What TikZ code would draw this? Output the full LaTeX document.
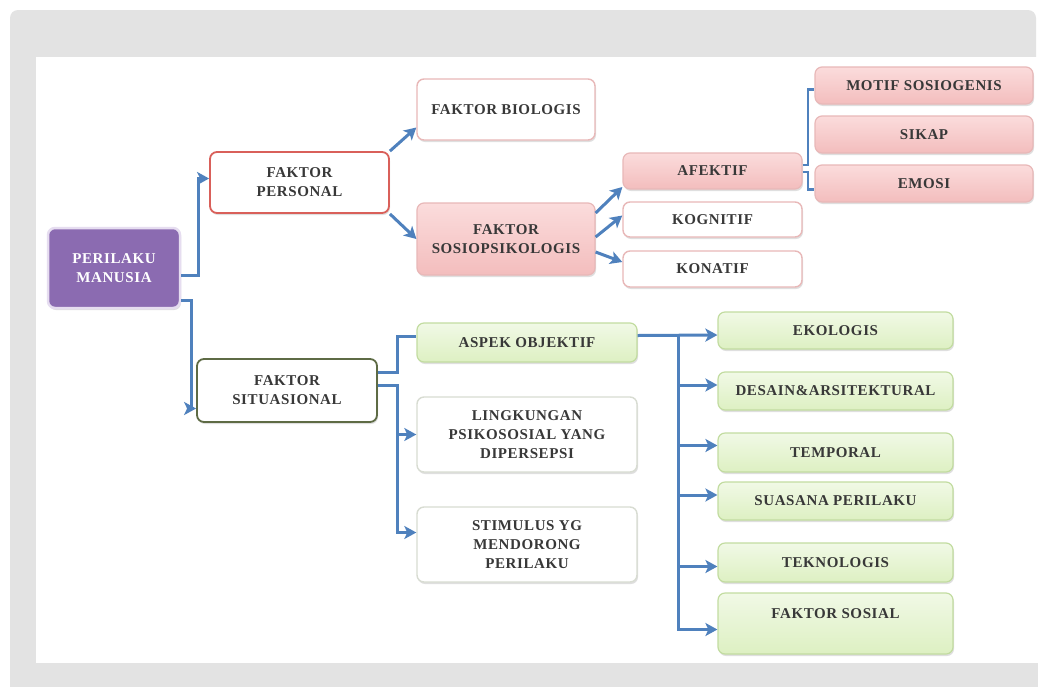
\documentclass[tikz,border=0pt]{standalone}
\usepackage{fontspec}
\setmainfont{Liberation Serif}[LetterSpace=4]
\usetikzlibrary{arrows.meta,shadows}
\definecolor{panel}{HTML}{E3E3E3}
\definecolor{txt}{HTML}{383838}
\definecolor{arrowblue}{HTML}{4F81BD}
\definecolor{purplefill}{HTML}{8B6BB1}
\definecolor{purpleedge}{HTML}{E6DDF0}
\definecolor{rededge}{HTML}{D9605A}
\definecolor{pinkedge}{HTML}{E8B8B8}
\definecolor{pinktop}{HTML}{FBDCDC}
\definecolor{pinkbot}{HTML}{F3BDBD}
\definecolor{greentop}{HTML}{F1F9E6}
\definecolor{greenbot}{HTML}{DDF0C2}
\definecolor{greenedge}{HTML}{C2DCA0}
\definecolor{oliveedge}{HTML}{5E6B45}
\definecolor{grayedge}{HTML}{D8DCD2}
\tikzset{
  box/.style={rectangle, rounded corners=7pt, line width=1.2pt, text=txt,
    font=\fontsize{15}{19}\selectfont\bfseries, align=center, inner sep=2pt,
    drop shadow={shadow xshift=1pt, shadow yshift=-2pt, opacity=0.25, fill=gray}},
  purplebox/.style={box, fill=purplefill, draw=purpleedge, line width=2.5pt, text=white},
  redbox/.style={box, fill=white, draw=rededge, line width=1.8pt},
  pinkline/.style={box, fill=white, draw=pinkedge, line width=1.4pt},
  pinkbox/.style={box, top color=pinktop, bottom color=pinkbot, draw=pinkedge},
  greenbox/.style={box, top color=greentop, bottom color=greenbot, draw=greenedge},
  olivebox/.style={box, fill=white, draw=oliveedge, line width=1.8pt},
  graybox/.style={box, fill=white, draw=grayedge, line width=1.4pt},
  arr/.style={draw=arrowblue, line width=3pt, -{Stealth[length=12pt,width=13pt,inset=3pt]}},
  plainline/.style={draw=arrowblue, line width=3pt},
  brline/.style={draw=arrowblue, line width=2.2pt},
}
\begin{document}
\begin{tikzpicture}[x=1pt,y=-1pt]
\useasboundingbox (0,0) rectangle (1038,686);
\fill[white] (0,0) rectangle (1038,686);
\fill[panel, rounded corners=8pt] (10,10) rectangle (1036,700);
\fill[panel] (900,57) rectangle (1038,700);
\fill[white] (36,57) rectangle (1038,663);

% nodes
\node[purplebox, minimum width=132pt, minimum height=80pt] (pm) at (114,268) {PERILAKU\\MANUSIA};
\node[redbox, minimum width=179pt, minimum height=61pt] (fp) at (299.5,182.5) {FAKTOR\\PERSONAL};
\node[pinkline, minimum width=178pt, minimum height=61pt] (fb) at (506,109.5) {FAKTOR BIOLOGIS};
\node[pinkbox, minimum width=178pt, minimum height=72pt] (fs) at (506,239) {FAKTOR\\SOSIOPSIKOLOGIS};
\node[pinkbox, minimum width=179pt, minimum height=36pt] (af) at (712.5,171) {AFEKTIF};
\node[pinkline, minimum width=179pt, minimum height=35pt] (kg) at (712.5,219.5) {KOGNITIF};
\node[pinkline, minimum width=179pt, minimum height=36pt] (kn) at (712.5,269) {KONATIF};
\node[pinkbox, minimum width=218pt, minimum height=37pt] (ms) at (924,85.5) {MOTIF SOSIOGENIS};
\node[pinkbox, minimum width=218pt, minimum height=37pt] (sk) at (924,134.5) {SIKAP};
\node[pinkbox, minimum width=218pt, minimum height=37pt] (em) at (924,183.5) {EMOSI};

\node[olivebox, minimum width=180pt, minimum height=63pt] (fsit) at (287,390.5) {FAKTOR\\SITUASIONAL};
\node[greenbox, minimum width=220pt, minimum height=39pt] (ao) at (527,342.5) {ASPEK OBJEKTIF};
\node[graybox, minimum width=220pt, minimum height=75pt] (lk) at (527,434.5) {LINGKUNGAN\\PSIKOSOSIAL YANG\\DIPERSEPSI};
\node[graybox, minimum width=220pt, minimum height=75pt] (st) at (527,544.5) {STIMULUS YG\\MENDORONG\\PERILAKU};

\node[greenbox, minimum width=235pt, minimum height=37pt] (ek) at (835.5,330.5) {EKOLOGIS};
\node[greenbox, minimum width=235pt, minimum height=38pt] (ds) at (835.5,391) {DESAIN\&ARSITEKTURAL};
\node[greenbox, minimum width=235pt, minimum height=39pt] (tp) at (835.5,452.5) {TEMPORAL};
\node[greenbox, minimum width=235pt, minimum height=38pt] (su) at (835.5,501) {SUASANA PERILAKU};
\node[greenbox, minimum width=235pt, minimum height=39pt] (tk) at (835.5,562.5) {TEKNOLOGIS};
\node[greenbox, minimum width=235pt, minimum height=61pt] (fso) at (835.5,623.5) {\raisebox{20pt}{FAKTOR SOSIAL}};

% connectors
\draw[arr] ([yshift=-7pt]pm.east) -- ++(17,0) |- ([yshift=4pt]fp.west);
\draw[arr] ([yshift=-32pt]pm.east) -- ++(10,0) |- ([yshift=-18pt]fsit.west);
\draw[arr] (fp.north east) -- ([yshift=-18pt]fb.west);
\draw[arr] (fp.south east) -- (fs.west);
\draw[arr] ([yshift=26pt]fs.east) -- ([yshift=-16pt]af.west);
\draw[arr] ([yshift=2pt]fs.east) -- ([yshift=4pt]kg.west);
\draw[arr] ([yshift=-13pt]fs.east) -- ([yshift=7pt]kn.west);
\draw[brline] ([yshift=6pt]af.east) -- ++(5,0) |- ([yshift=-4pt]ms.west);
\draw[brline] ([yshift=-1pt]af.east) -- ++(5,0) |- ([yshift=-6pt]em.west);

\draw[plainline] ([yshift=18pt]fsit.east) -- ++(20,0) |- ([yshift=6pt]ao.west);
\draw[arr] ([yshift=5pt]fsit.east) -- ++(20,0) |- (lk.west);
\draw[arr] ([yshift=5pt]fsit.east) -- ++(20,0) |- ([yshift=12pt]st.west);

\coordinate (t0) at (678,335);
\draw[arr] ([yshift=7pt]ao.east) -- (ek.west |- t0);
\draw[arr] (t0) |- ([yshift=6pt]ds.west);
\draw[arr] (t0) |- ([yshift=7pt]tp.west);
\draw[arr] (t0) |- ([yshift=6pt]su.west);
\draw[arr] (t0) |- ([yshift=-4pt]tk.west);
\draw[arr] (t0) |- ([yshift=-6pt]fso.west);
\end{tikzpicture}
\end{document}
